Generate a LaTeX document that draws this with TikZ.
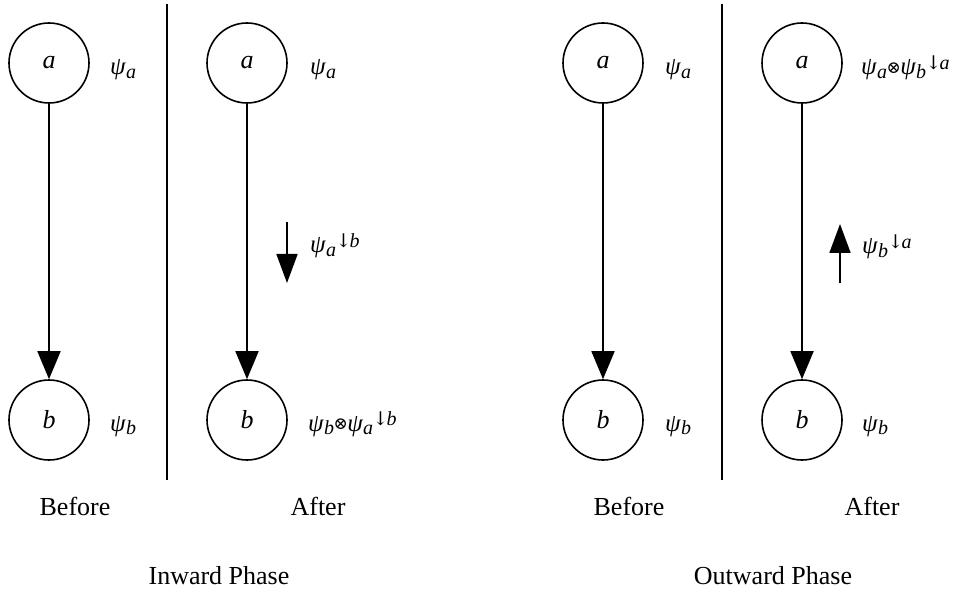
\documentclass[tikz,border=0pt]{standalone}
\usepackage{fontspec}
\setmainfont{Liberation Serif}
\newfontfamily\symfont{DejaVu Serif}
\usetikzlibrary{arrows.meta}

% potential psi_x, its marginal arrow and the product sign
\newcommand\psisub[1]{\textit{ψ}\raisebox{-0.3ex}{\fontsize{20}{22}\selectfont\itshape #1}}
\newcommand\projto[1]{\raisebox{0.5ex}{\fontsize{20}{22}\selectfont\kern-0.5pt{\symfont\fontsize{19}{22}\selectfont ↓}\kern-2pt\itshape #1}}
\newcommand\prodsign{\kern-0.5pt\raisebox{0.15ex}{\fontsize{17}{20}\selectfont\symfont ⊗}\kern-0.5pt}

\tikzset{
  vert/.style={circle, draw, line width=1.6pt, minimum size=80pt, inner sep=0pt,
               font=\fontsize{26}{30}\selectfont\itshape},
  pot/.style={anchor=base west, inner sep=0pt, font=\fontsize{25}{30}\selectfont},
  caption/.style={anchor=base, inner sep=0pt, font=\fontsize{26}{30}\selectfont},
  edge/.style={line width=1.8pt, -{Triangle[length=28pt,width=23pt]}},
  msg/.style={line width=1.8pt, -{Triangle[length=29pt,width=21pt]}},
  divider/.style={line width=2.2pt}
}

\begin{document}
\begin{tikzpicture}[x=1pt,y=-1pt]
\useasboundingbox (0,0) rectangle (957,593);

% ---- Inward phase, before ----
\node[vert] (a1) at (49,63) {a};
\node[vert] (b1) at (49,420) {b};
\draw[edge] (a1) -- (b1);
\node[pot] (pa1) at (110,75) {\psisub{a}};
\node[pot] (pb1) at (110,431) {\psisub{b}};
\node[caption] (bef1) at (75,515) {Before};

\coordinate (d1t) at (167,4);
\coordinate (d1b) at (167,480);
\draw[divider] (d1t) -- (d1b);

% ---- Inward phase, after ----
\node[vert] (a2) at (247,63) {a};
\node[vert] (b2) at (247,420) {b};
\draw[edge] (a2) -- (b2);
\node[pot] (pa2) at (310,75) {\psisub{a}};
\node[pot] (pb2) at (308,431) {\psisub{b}\prodsign\psisub{a}\projto{b}};
\coordinate (m2s) at (287,222);
\coordinate (m2e) at (287,283);
\draw[msg] (m2s) -- (m2e);
\node[pot] (pm2) at (310,253) {\psisub{a}\projto{b}};
\node[caption] (aft1) at (318,515) {After};

\node[caption] (inward) at (219,584) {Inward Phase};

% ---- Outward phase, before ----
\node[vert] (a3) at (603,63) {a};
\node[vert] (b3) at (603,420) {b};
\draw[edge] (a3) -- (b3);
\node[pot] (pa3) at (665,75) {\psisub{a}};
\node[pot] (pb3) at (665,431) {\psisub{b}};
\node[caption] (bef2) at (629,515) {Before};

\coordinate (d2t) at (722,4);
\coordinate (d2b) at (722,480);
\draw[divider] (d2t) -- (d2b);

% ---- Outward phase, after ----
\node[vert] (a4) at (802,63) {a};
\node[vert] (b4) at (802,420) {b};
\draw[edge] (a4) -- (b4);
\node[pot] (pa4) at (861,75) {\psisub{a}\prodsign\psisub{b}\projto{a}};
\node[pot] (pb4) at (862,431) {\psisub{b}};
\coordinate (m4s) at (840,283);
\coordinate (m4e) at (840,224);
\draw[msg] (m4s) -- (m4e);
\node[pot] (pm4) at (862,254) {\psisub{b}\projto{a}};
\node[caption] (aft2) at (872,515) {After};

\node[caption] (outward) at (773,584) {Outward Phase};
\end{tikzpicture}
\end{document}
